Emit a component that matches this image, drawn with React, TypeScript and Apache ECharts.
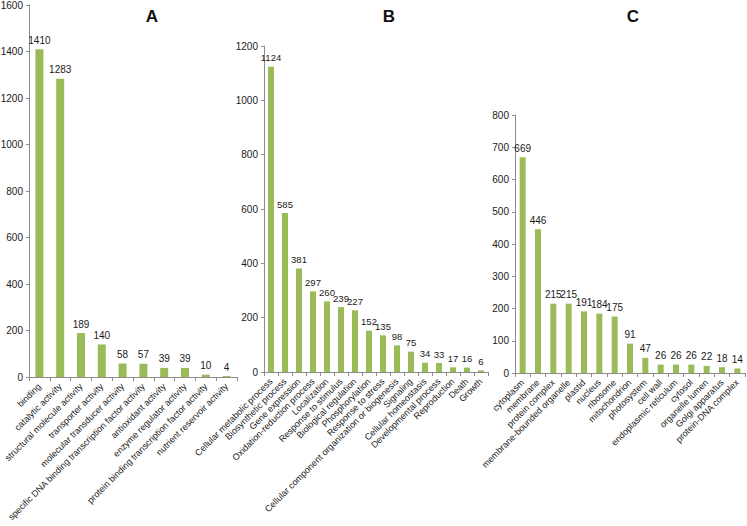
import React, { useEffect, useRef } from "react";
import * as echarts from "echarts";

const catsA = [
  "binding",
  "catalytic activity",
  "structural molecule activity",
  "transporter activity",
  "molecular transducer activity",
  "specific DNA binding transcription factor activity",
  "antioxidant activity",
  "enzyme regulator activity",
  "protein binding transcription factor activity",
  "nutrient reservoir activity",
];
const valsA = [1410, 1283, 189, 140, 58, 57, 39, 39, 10, 4];

const catsB = [
  "Cellular metabolic process",
  "Biosynthetic process",
  "Gene expression",
  "Oxidation-reduction process",
  "Localization",
  "Response to stimulus",
  "Biological regulation",
  "Phosphorylation",
  "Response to stress",
  "Cellular component organization or biogenesis",
  "Signaling",
  "Cellular homeostasis",
  "Developmental process",
  "Reproduction",
  "Death",
  "Growth",
];
const valsB = [1124, 585, 381, 297, 260, 239, 227, 152, 135, 98, 75, 34, 33, 17, 16, 6];

const catsC = [
  "cytoplasm",
  "membrane",
  "protein complex",
  "membrane-bounded organelle",
  "plastid",
  "nucleus",
  "ribosome",
  "mitochondrion",
  "photosystem",
  "cell wall",
  "endoplasmic reticulum",
  "cytosol",
  "organelle lumen",
  "Golgi apparatus",
  "protein-DNA complex",
];
const valsC = [669, 446, 215, 215, 191, 184, 175, 91, 47, 26, 26, 26, 22, 18, 14];

const panelTitles = ["A", "B", "C"];
const yMax = [1600, 1200, 800];
const yStep = [200, 200, 100];

const FONT = "'Liberation Sans', Arial, sans-serif";
const GREEN = "#9BBB59";
const AXIS = "#8c8c8c";
const TEXT = "#1a1a1a";

export default function App() {
  const ref = useRef<HTMLDivElement>(null);
  useEffect(() => {
    if (!ref.current) return;
    const chart = echarts.init(ref.current, undefined, { renderer: "svg" });
    const grids = [
      { left: 29, right: 747 - 237, top: 5, bottom: 526 - 377 },
      { left: 264, right: 747 - 488, top: 46, bottom: 526 - 372 },
      { left: 515, right: 747 - 745, top: 115, bottom: 526 - 373 },
    ].map((g) => ({ ...g, containLabel: false, outerBoundsMode: "none" }));
    const cats = [catsA, catsB, catsC];
    const vals = [valsA, valsB, valsC];
    const barW = [8, 6, 6];
    const labelSize = [10, 9.5, 10];
    const titleX = [152, 389, 633];
    chart.setOption({
      animation: false,
      backgroundColor: "#ffffff",
      textStyle: { fontFamily: FONT },
      grid: grids,
      xAxis: cats.map((c, i) => ({
        type: "category",
        gridIndex: i,
        data: c,
        axisLine: { lineStyle: { color: AXIS, width: 1 } },
        axisTick: { show: true, length: 4, lineStyle: { color: AXIS } },
        axisLabel: {
          interval: 0,
          rotate: 45,
          fontSize: 9,
          margin: 8,
          color: TEXT,
          fontFamily: FONT,
        },
      })),
      yAxis: cats.map((_, i) => ({
        type: "value",
        gridIndex: i,
        min: 0,
        max: yMax[i],
        interval: yStep[i],
        axisLine: { show: true, lineStyle: { color: AXIS, width: 1 } },
        axisTick: { show: true, length: 3, lineStyle: { color: AXIS } },
        splitLine: { show: false },
        axisLabel: {
          fontSize: 10,
          color: TEXT,
          margin: 6,
          fontFamily: FONT,
          formatter: (v: number) => String(v),
        },
      })),
      series: vals.map((v, i) => ({
        type: "bar",
        xAxisIndex: i,
        yAxisIndex: i,
        data: v,
        barWidth: barW[i],
        itemStyle: { color: GREEN },
        label: {
          show: true,
          position: "top",
          distance: 4,
          fontSize: labelSize[i],
          color: TEXT,
          fontFamily: FONT,
        },
      })),
      graphic: panelTitles.map((t, i) => ({
        type: "text",
        x: titleX[i],
        y: 16,
        style: {
          text: t,
          font: `bold 17px ${FONT}`,
          fill: "#111",
          textAlign: "center",
          textVerticalAlign: "middle",
        },
      })),
    });
    return () => chart.dispose();
  }, []);
  return (
    <div
      ref={ref}
      style={{ position: "fixed", left: 0, top: 0, width: 747, height: 526 }}
    />
  );
}
